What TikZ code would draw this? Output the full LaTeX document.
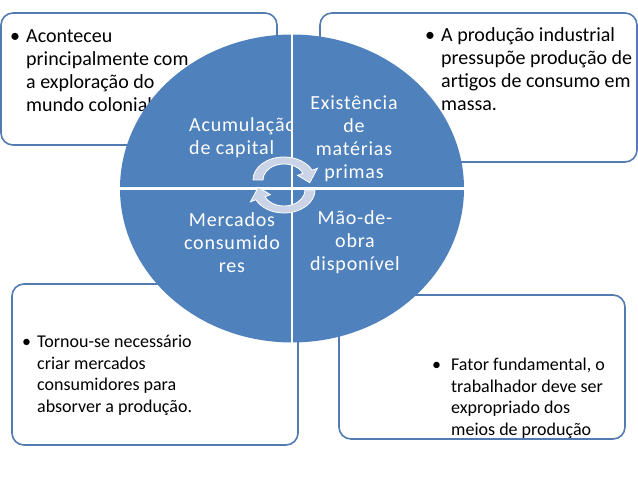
\documentclass[tikz,border=0pt]{standalone}
\usepackage{fontspec}
\setmainfont{Carlito}
\newfontfamily\quadfont[LetterSpace=4]{Carlito}
\usepackage{tikz}
\usetikzlibrary{shapes.geometric}
\definecolor{cyclefill}{RGB}{79,129,189}
\definecolor{boxline}{RGB}{84,122,178}
\definecolor{arrowfill}{RGB}{203,212,230}
\newcommand{\stackl}[1]{\begin{tabular}[t]{@{}l@{}}#1\end{tabular}}
\newcommand{\stackc}[1]{\begin{tabular}[t]{@{}c@{}}#1\end{tabular}}

\begin{document}
\begin{tikzpicture}[
    x=1pt, y=1pt,
    note/.style={
        draw=boxline,
        line width=1.6pt,
        rounded corners=12pt,
        fill=white
    },
    big/.style={
        font=\fontsize{20}{23}\selectfont,
        inner sep=0pt,
        anchor=base west
    },
    small/.style={
        font=\fontsize{18}{21.4}\selectfont,
        inner sep=0pt,
        anchor=base west
    },
    quad/.style={
        font=\quadfont\fontsize{20}{22.7}\selectfont,
        text=white,
        inner sep=0pt
    },
    divider/.style={draw=white, line width=2.5pt},
    turn/.style={fill=arrowfill, draw=white, line width=0.8pt}
]

\useasboundingbox (0,0) rectangle (638,479);

\node[note, minimum width=276, minimum height=132] (tlbox) at (139,400) {};
\node[note, minimum width=317, minimum height=149] (trbox) at (478.5,391.5) {};
\node[note, minimum width=286, minimum height=161] (blbox) at (155,114.5) {};
\node[note, minimum width=286, minimum height=144] (brbox) at (482,112) {};

\node[big] (tlbullet) at (10,436) {•};
\node[big] (tltext) at (26,436)
{\stackl{Aconteceu\\
principalmente com\\
a exploração do\\
mundo colonial}};

\node[big] (trbullet) at (425,437) {•};
\node[big] (trtext) at (441,437)
{\stackl{A produção industrial\\
pressupõe produção de\\
artigos de consumo em\\
massa.}};

\node[small] (blbullet) at (22,131) {•};
\node[small] (bltext) at (37,131)
{\stackl{Tornou-se necessário\\
criar mercados\\
consumidores para\\
absorver a produção.}};

\node[small] (brbullet) at (432,108) {•};
\node[small] (brtext) at (451,108)
{\stackl{Fator fundamental, o\\
trabalhador deve ser\\
expropriado dos\\
meios de produção}};

\node[ellipse, fill=cyclefill, minimum width=344, minimum height=308, inner sep=0pt] (cycle) at (292,290.5) {};

\begin{scope}
\clip (100,291) rectangle (292,460);
\node[quad, anchor=base west] (capital) at (189,347)
{\stackl{Acumulação\\
de capital}};
\end{scope}

\node[quad, anchor=base] (materias) at (354,369)
{\stackc{Existência\\
de\\
matérias\\
primas}};

\node[quad, anchor=base] (mercados) at (232,252)
{\stackc{Mercados\\
consumido\\
res}};

\node[quad, anchor=base] (maodeobra) at (355,254)
{\stackc{Mão-de-\\
obra\\
disponível}};

\draw[divider] (cycle.north) -- (cycle.south);
\draw[divider] (cycle.west) -- (cycle.east);

\coordinate (topturn) at (284,299);
\coordinate (botturn) at (284,289);

\begin{scope}[shift={(topturn)}]
\draw[turn] (180:31 and 23) arc[start angle=180, end angle=25, x radius=31, y radius=23]
    -- (25:37 and 28) -- (-8:26 and 19.5) -- (25:15 and 11) -- (25:21 and 16)
    arc[start angle=25, end angle=180, x radius=21, y radius=16] -- cycle;
\end{scope}

\begin{scope}[shift={(botturn)}]
\draw[turn] (0:31 and 23) arc[start angle=0, end angle=-155, x radius=31, y radius=23]
    -- (-155:37 and 28) -- (-188:26 and 19.5) -- (-155:15 and 11) -- (-155:21 and 16)
    arc[start angle=-155, end angle=0, x radius=21, y radius=16] -- cycle;
\end{scope}

\end{tikzpicture}
\end{document}
